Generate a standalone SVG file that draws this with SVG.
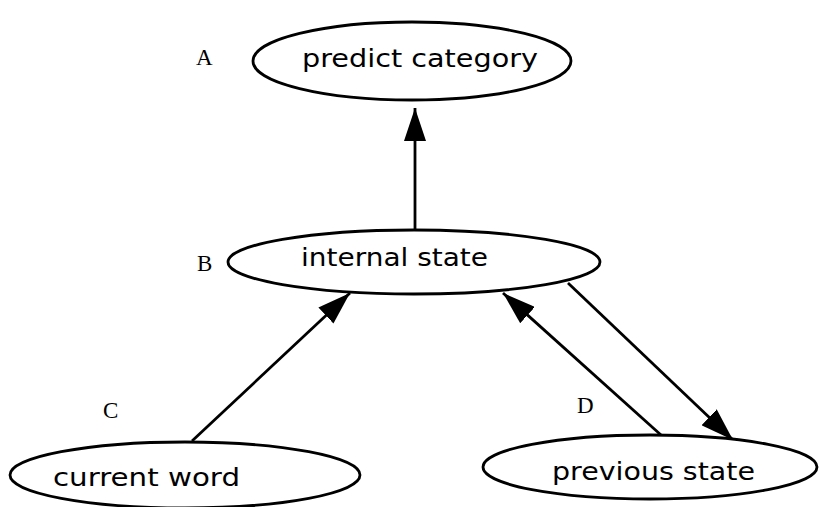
<svg xmlns="http://www.w3.org/2000/svg" width="819" height="507" viewBox="0 0 819 507">
<style>
.node ellipse{fill:#fff;stroke:#000;stroke-width:2.8}
.t{font-family:"DejaVu Sans","Liberation Sans",sans-serif;font-size:25px;fill:#000}
.lbl{font-family:"Liberation Serif",serif;font-size:23px;fill:#000}
.edge{stroke:#000;stroke-width:2.8;fill:none;marker-end:url(#ah)}
</style>
<defs>
<marker id="ah" markerUnits="userSpaceOnUse" markerWidth="34" markerHeight="22" viewBox="0 0 34 22" refX="33" refY="11" orient="auto">
<path d="M0,0 L33,11 L0,22 Z" fill="#000"/>
</marker>
</defs>
<rect width="819" height="507" fill="#fff"/>
<g id="connectors">
<line class="edge" x1="415" y1="233" x2="415" y2="108"/>
<line class="edge" x1="192" y1="441" x2="350" y2="293"/>
<line class="edge" x1="661" y1="435" x2="503" y2="293"/>
<line class="edge" x1="568" y1="283" x2="733" y2="440"/>
</g>
<g id="nodeA" class="node">
<ellipse cx="412" cy="61" rx="159" ry="39"/>
<text class="t" x="302" y="67" textLength="236" lengthAdjust="spacingAndGlyphs">predict category</text>
<text class="lbl" x="196" y="65">A</text>
</g>
<g id="nodeB" class="node">
<ellipse cx="414" cy="262" rx="186" ry="32"/>
<text class="t" x="301" y="266" textLength="187" lengthAdjust="spacingAndGlyphs">internal state</text>
<text class="lbl" x="197" y="271">B</text>
</g>
<g id="nodeC" class="node">
<ellipse cx="185" cy="475" rx="175" ry="33"/>
<text class="t" x="53" y="486" textLength="187" lengthAdjust="spacingAndGlyphs">current word</text>
<text class="lbl" x="103" y="418">C</text>
</g>
<g id="nodeD" class="node">
<ellipse cx="650" cy="467" rx="167" ry="32"/>
<text class="t" x="552" y="480" textLength="203" lengthAdjust="spacingAndGlyphs">previous state</text>
<text class="lbl" x="577" y="413">D</text>
</g>
</svg>
